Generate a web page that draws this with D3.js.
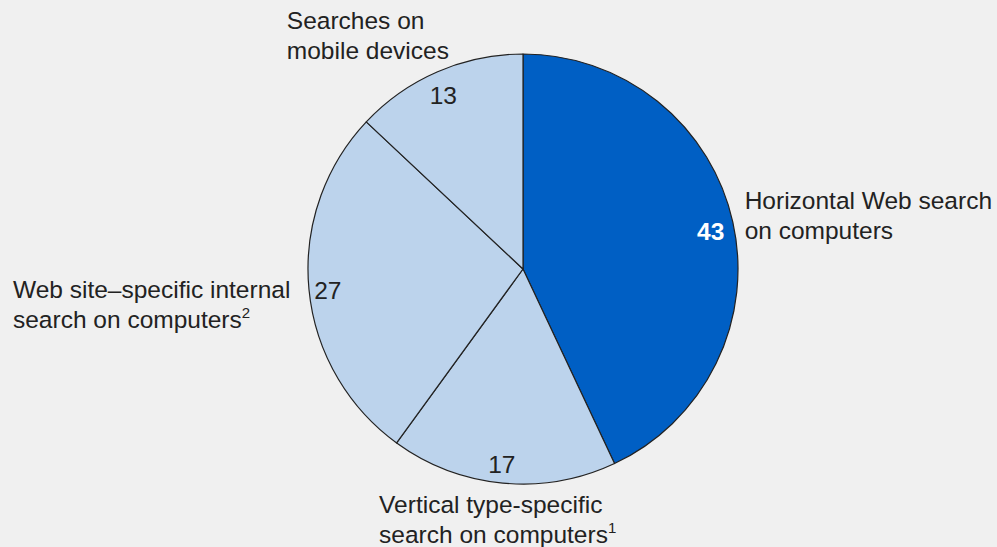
<!DOCTYPE html>
<html>
<head>
<meta charset="utf-8">
<script src="https://cdn.jsdelivr.net/npm/d3@7"></script>
<style>
  html, body { margin: 0; padding: 0; background: #f0f0f0; }
  svg text { font-family: "Liberation Sans", Arial, sans-serif; fill: #222; }
</style>
</head>
<body>
<svg id="chart"></svg>
<script>
(function (d3) {
    'use strict';

    // slices, clockwise from 12 o'clock
    var categories = ['horizontal', 'vertical', 'site', 'mobile'];
    var shares = [43, 17, 27, 13];
    var labelLines = [
        [['Horizontal Web search'], ['on computers']],
        [['Vertical type-specific'], ['search on computers', '1']],
        [['Web site\u2013specific internal'], ['search on computers', '2']],
        [['Searches on'], ['mobile devices']]
    ];

    var width = 997, height = 547,
        cx = 523, cy = 269, radius = 215,
        fontSize = 24.5, lineHeight = 30;

    var colors = { horizontal: '#005fc4', vertical: '#bcd3ec', site: '#bcd3ec', mobile: '#bcd3ec' };
    // where each label block sits relative to the point just outside its slice
    var labelOffset = [[5, -12], [-123, 23], [-289, 8], [-148, -36]];

    var data = categories.map(function (c, i) { return { key: c, value: shares[i], lines: labelLines[i] }; });

    var svg = d3.select('#chart')
        .attr('width', width)
        .attr('height', height);

    var g = svg.append('g')
        .attr('transform', 'translate(' + cx + ',' + cy + ')');

    var pie = d3.pie().sort(null).value(function (d) { return d.value; });
    var arc = d3.arc().innerRadius(0).outerRadius(radius);
    var valueArc = d3.arc().innerRadius(193).outerRadius(193);
    var outerArc = d3.arc().innerRadius(222).outerRadius(222);

    var arcs = pie(data);

    g.selectAll('path')
        .data(arcs)
        .enter()
        .append('path')
        .attr('d', arc)
        .attr('fill', function (d) { return colors[d.data.key]; })
        .attr('stroke', '#222')
        .attr('stroke-width', 1.2)
        .attr('stroke-linejoin', 'round');

    g.selectAll('.value')
        .data(arcs)
        .enter()
        .append('text')
        .attr('class', 'value')
        .attr('transform', function (d) { return 'translate(' + valueArc.centroid(d) + ')'; })
        .attr('text-anchor', function (d, i) { return i === 0 ? 'end' : 'middle'; })
        .attr('dx', function (d, i) { return i === 0 ? 13 : -3; })
        .attr('dy', function (d, i) { return i === 0 ? '0.55em' : '0.5em'; })
        .style('font-size', fontSize + 'px')
        .style('font-weight', function (d, i) { return i === 0 ? 'bold' : 'normal'; })
        .style('fill', function (d, i) { return i === 0 ? '#fff' : '#222'; })
        .text(function (d) { return d.data.value; });

    var labels = g.selectAll('.label')
        .data(arcs)
        .enter()
        .append('text')
        .attr('class', 'label')
        .style('font-size', fontSize + 'px')
        .attr('transform', function (d, i) {
            var p = outerArc.centroid(d);
            return 'translate(' + (p[0] + labelOffset[i][0]) + ',' + (p[1] + labelOffset[i][1]) + ')';
        });

    labels.each(function (d) {
        var t = d3.select(this);
        d.data.lines.forEach(function (line, j) {
            t.append('tspan')
                .attr('x', 0)
                .attr('y', j * lineHeight)
                .text(line[0]);
            if (line[1]) {
                t.append('tspan')
                    .attr('dy', -10)
                    .style('font-size', '15px')
                    .text(line[1]);
            }
        });
    });
})(window.d3);
</script>
</body>
</html>
